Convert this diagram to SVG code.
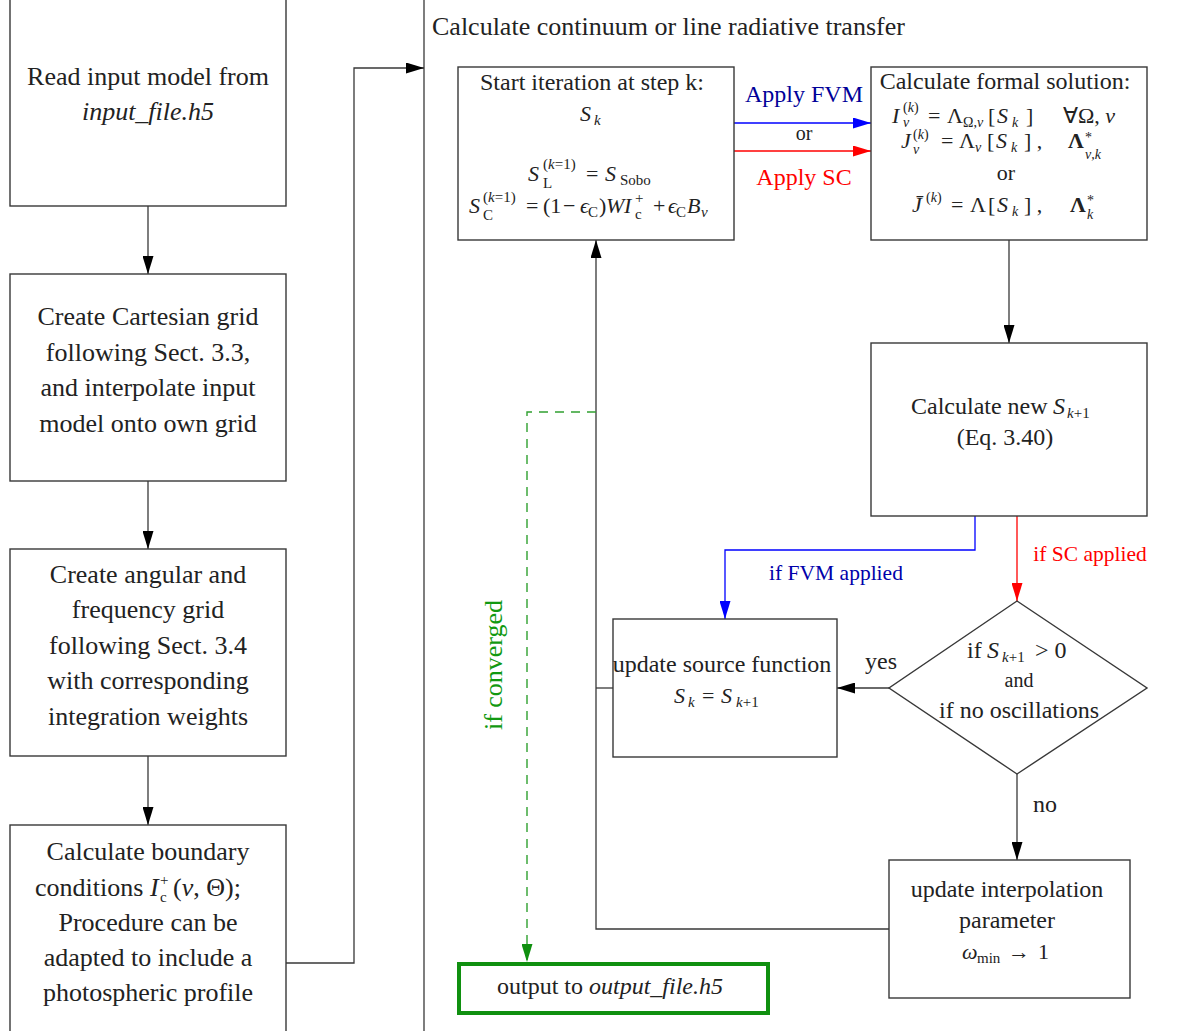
<svg xmlns="http://www.w3.org/2000/svg" width="1179" height="1031" viewBox="0 0 1179 1031">
<style>
.box{fill:none;stroke:#383838;stroke-width:1.4}
.ln{fill:none;stroke:#383838;stroke-width:1.3}
text{font-family:"Liberation Serif","Times New Roman",serif;fill:#222}
.c{text-anchor:middle}
.f26{font-size:26px}
.f24{font-size:24px}
.f22{font-size:22px}
.f21{font-size:21.5px}
.f20{font-size:20px}
.s{font-size:15px}
.ss{font-size:14px}
.it{font-style:italic}
.b{font-weight:bold}
</style>
<defs>
<marker id="ak" markerUnits="userSpaceOnUse" markerWidth="18" markerHeight="11" refX="18" refY="5.5" orient="auto"><path d="M0,0 L18,5.5 L0,11 z" fill="#000"/></marker>
<marker id="ab" markerUnits="userSpaceOnUse" markerWidth="18" markerHeight="11" refX="18" refY="5.5" orient="auto"><path d="M0,0 L18,5.5 L0,11 z" fill="#0000ff"/></marker>
<marker id="ar" markerUnits="userSpaceOnUse" markerWidth="18" markerHeight="11" refX="18" refY="5.5" orient="auto"><path d="M0,0 L18,5.5 L0,11 z" fill="#ff0000"/></marker>
<marker id="ag" markerUnits="userSpaceOnUse" markerWidth="18" markerHeight="11" refX="18" refY="5.5" orient="auto"><path d="M0,0 L18,5.5 L0,11 z" fill="#109010"/></marker>
</defs>
<rect width="1179" height="1031" fill="#fff"/>

<line x1="424" y1="0" x2="424" y2="1031" class="ln"/>
<text x="432" y="35" class="f26">Calculate continuum or line radiative transfer</text>

<g id="connectors">
<path class="ln" d="M148,206 V274" marker-end="url(#ak)"/>
<path class="ln" d="M148,481 V549" marker-end="url(#ak)"/>
<path class="ln" d="M148,756 V825" marker-end="url(#ak)"/>
<path class="ln" d="M286,963 H354 V68 H424" marker-end="url(#ak)"/>
<path d="M734,123 H871" fill="none" stroke="#0000ff" stroke-width="1.3" marker-end="url(#ab)"/>
<path d="M734,151 H871" fill="none" stroke="#ff0000" stroke-width="1.3" marker-end="url(#ar)"/>
<path class="ln" d="M1009,240 V343" marker-end="url(#ak)"/>
<path d="M975,516 V550 H725 V619" fill="none" stroke="#0000ff" stroke-width="1.3" marker-end="url(#ab)"/>
<path d="M1017,516 V601" fill="none" stroke="#ff0000" stroke-width="1.3" marker-end="url(#ar)"/>
<path class="ln" d="M889,688 H837" marker-end="url(#ak)"/>
<path class="ln" d="M1017,774 V860" marker-end="url(#ak)"/>
<path class="ln" d="M889,929 H596 V240" marker-end="url(#ak)"/>
<path class="ln" d="M613,688 H596"/>
<path d="M596,412 H527 V962" fill="none" stroke="#30a030" stroke-width="1.4" stroke-dasharray="9,7" marker-end="url(#ag)"/>
<text x="804" y="102" class="f24 c" style="fill:#000099">Apply FVM</text>
<text x="804" y="140" class="f20 c">or</text>
<text x="804" y="185" class="f24 c" style="fill:#ff0000">Apply SC</text>
<text x="836" y="580" class="f21 c" style="fill:#0000aa">if FVM applied</text>
<text x="1090" y="561" class="f21 c" style="fill:#ff0000">if SC applied</text>
<text x="881" y="669" class="f24 c">yes</text>
<text x="1045" y="812" class="f24 c">no</text>
<text transform="translate(502,665) rotate(-90)" class="f26 c" style="fill:#119911">if converged</text>
</g>

<g id="read-input">
<rect class="box" x="10" y="-5" width="276" height="211"/>
<text x="148" y="85" class="f26 c">Read input model from</text>
<text x="148" y="120" class="f26 c it">input_file.h5</text>
</g>

<g id="cartesian-grid">
<rect class="box" x="10" y="274" width="276" height="207"/>
<text x="148" y="325" class="f26 c">Create Cartesian grid</text>
<text x="148" y="361" class="f26 c">following Sect. 3.3,</text>
<text x="148" y="396" class="f26 c">and interpolate input</text>
<text x="148" y="432" class="f26 c">model onto own grid</text>
</g>

<g id="angular-grid">
<rect class="box" x="10" y="549" width="276" height="207"/>
<text x="148" y="583" class="f26 c">Create angular and</text>
<text x="148" y="618" class="f26 c">frequency grid</text>
<text x="148" y="654" class="f26 c">following Sect. 3.4</text>
<text x="148" y="689" class="f26 c">with corresponding</text>
<text x="148" y="725" class="f26 c">integration weights</text>
</g>

<g id="boundary">
<rect class="box" x="10" y="825" width="276" height="215"/>
<text x="148" y="860" class="f26 c">Calculate boundary</text>
<text class="f26"><tspan x="35" y="896">conditions</tspan><tspan x="150" y="896" class="it">I</tspan><tspan x="160" y="885" class="s">+</tspan><tspan x="160" y="902" class="s">c</tspan><tspan x="173" y="896">(</tspan><tspan class="it">ν</tspan><tspan>, Θ);</tspan></text>
<text x="148" y="931" class="f26 c">Procedure can be</text>
<text x="148" y="966" class="f26 c">adapted to include a</text>
<text x="148" y="1001" class="f26 c">photospheric profile</text>
</g>

<g id="start-iteration">
<rect class="box" x="458" y="67" width="276" height="173"/>
<text x="592" y="90" class="f24 c">Start iteration at step k:</text>
<text class="f22"><tspan x="580" y="121" class="it">S</tspan><tspan x="594" y="125" class="s it">k</tspan></text>
<text class="f22"><tspan x="528" y="181" class="it">S</tspan><tspan x="543" y="169" class="s">(<tspan class="it">k</tspan>=1)</tspan><tspan x="543" y="188" class="s">L</tspan><tspan x="586" y="181">=</tspan><tspan x="605" y="181" class="it">S</tspan><tspan x="620" y="185" class="s">Sobo</tspan></text>
<text class="f22"><tspan x="469" y="213" class="it">S</tspan><tspan x="483" y="202" class="s">(<tspan class="it">k</tspan>=1)</tspan><tspan x="483" y="220" class="s">C</tspan><tspan x="526" y="213">=</tspan><tspan x="543" y="213">(1</tspan><tspan x="563" y="213">−</tspan><tspan x="580" y="213" class="it">ϵ</tspan><tspan x="588" y="217" class="s">C</tspan><tspan x="599" y="213">)</tspan><tspan x="606" y="213" class="it">W</tspan><tspan x="624" y="213" class="it">I</tspan><tspan x="635" y="203" class="s">+</tspan><tspan x="635" y="219" class="s">c</tspan><tspan x="653" y="213">+</tspan><tspan x="668" y="213" class="it">ϵ</tspan><tspan x="676" y="217" class="s">C</tspan><tspan x="687" y="213" class="it">B</tspan><tspan x="701" y="217" class="s it">ν</tspan></text>
</g>

<g id="formal-solution">
<rect class="box" x="871" y="67" width="276" height="173"/>
<text x="1005" y="89" class="f24 c">Calculate formal solution:</text>
<text class="f22"><tspan x="892" y="123" class="it">I</tspan><tspan x="903" y="112" class="ss">(<tspan class="it">k</tspan>)</tspan><tspan x="903" y="127" class="ss it">ν</tspan><tspan x="928" y="123">=</tspan><tspan x="947" y="123">Λ</tspan><tspan x="963" y="127" class="ss">Ω,<tspan class="it">ν</tspan></tspan><tspan x="988" y="123">[</tspan><tspan x="997" y="123" class="it">S</tspan><tspan x="1012" y="127" class="ss it">k</tspan><tspan x="1026" y="123">]</tspan><tspan x="1063" y="123">∀Ω, </tspan><tspan class="it">ν</tspan></text>
<text class="f22"><tspan x="901" y="148" class="it">J</tspan><tspan x="913" y="139" class="ss">(<tspan class="it">k</tspan>)</tspan><tspan x="913" y="154" class="ss it">ν</tspan><tspan x="941" y="148">=</tspan><tspan x="959" y="148">Λ</tspan><tspan x="975" y="152" class="ss it">ν</tspan><tspan x="987" y="148">[</tspan><tspan x="996" y="148" class="it">S</tspan><tspan x="1011" y="152" class="ss it">k</tspan><tspan x="1024" y="148">] ,</tspan><tspan x="1068" y="148" class="b">Λ</tspan><tspan x="1085" y="142" class="ss">*</tspan><tspan x="1085" y="159" class="ss it">ν,k</tspan></text>
<text x="1006" y="180" class="f22 c">or</text>
<text class="f22"><tspan x="912" y="212" class="it">J̄</tspan><tspan x="926" y="202" class="ss">(<tspan class="it">k</tspan>)</tspan><tspan x="951" y="212">=</tspan><tspan x="970" y="212">Λ</tspan><tspan x="988" y="212">[</tspan><tspan x="997" y="212" class="it">S</tspan><tspan x="1012" y="216" class="ss it">k</tspan><tspan x="1024" y="212">] ,</tspan><tspan x="1070" y="212" class="b">Λ</tspan><tspan x="1087" y="205" class="ss">*</tspan><tspan x="1087" y="219" class="ss it">k</tspan></text>
</g>

<g id="calculate-new">
<rect class="box" x="871" y="343" width="276" height="173"/>
<text class="f24"><tspan x="911" y="414">Calculate new </tspan><tspan x="1053" y="414" class="it">S</tspan><tspan x="1067" y="418" class="s it">k</tspan><tspan y="418" class="s">+1</tspan></text>
<text x="1005" y="445" class="f24 c">(Eq. 3.40)</text>
</g>

<g id="decision">
<polygon class="box" points="1017,601 1147,688 1017,774 889,688"/>
<text class="f24"><tspan x="967" y="658">if </tspan><tspan x="987" y="658" class="it">S</tspan><tspan x="1002" y="662" class="s it">k</tspan><tspan y="662" class="s">+1</tspan><tspan x="1035" y="658">&gt; 0</tspan></text>
<text x="1019" y="687" class="f20 c">and</text>
<text x="1019" y="718" class="f24 c">if no oscillations</text>
</g>

<g id="update-source">
<rect class="box" x="613" y="619" width="224" height="138"/>
<text x="722" y="672" class="f24 c">update source function</text>
<text class="f22"><tspan x="674" y="703" class="it">S</tspan><tspan x="688" y="707" class="s it">k</tspan><tspan x="702" y="703">=</tspan><tspan x="721" y="703" class="it">S</tspan><tspan x="736" y="707" class="s it">k</tspan><tspan y="707" class="s">+1</tspan></text>
</g>

<g id="update-interpolation">
<rect class="box" x="889" y="860" width="241" height="138"/>
<text x="1007" y="897" class="f24 c">update interpolation</text>
<text x="1007" y="928" class="f24 c">parameter</text>
<text class="f22"><tspan x="962" y="959" class="it">ω</tspan><tspan x="977" y="963" class="s">min</tspan><tspan x="1008" y="959">→</tspan><tspan x="1038" y="959">1</tspan></text>
</g>

<g id="output">
<rect x="459" y="964" width="309" height="49" fill="none" stroke="#109010" stroke-width="4"/>
<text class="f24"><tspan x="497" y="994">output to </tspan><tspan class="it">output_file.h5</tspan></text>
</g>
</svg>
